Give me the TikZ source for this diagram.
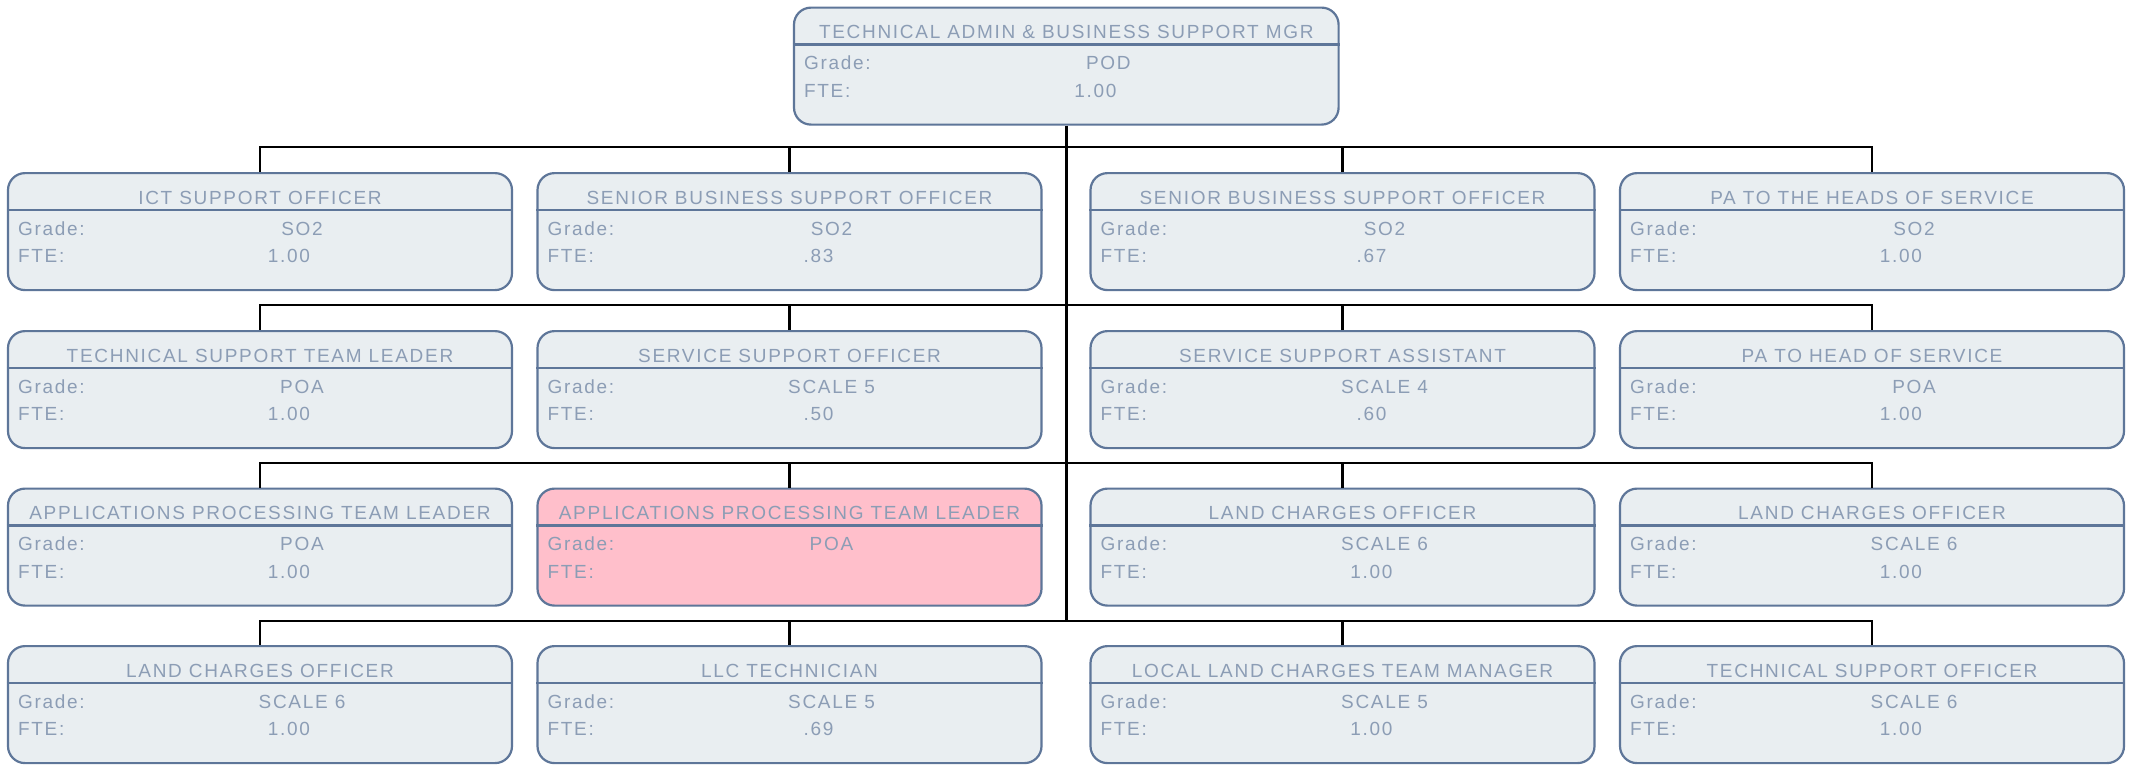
\documentclass[tikz,border=0pt]{standalone}
\usepackage{fontspec}
\setmainfont{Liberation Sans}[LetterSpace=9]
\definecolor{boxfill}{HTML}{E9EEF1}
\definecolor{boxline}{HTML}{5E7699}
\definecolor{txt}{HTML}{8C9DB5}
\definecolor{pinkfill}{HTML}{FFBFCB}
\tikzset{
  orgbox/.style={draw=boxline, line width=2.2pt, rounded corners=17pt, minimum height=117pt, inner sep=0pt, anchor=north},
  sepline/.style={draw=boxline, line width=2.2pt},
  txtnode/.style={text=txt, inner sep=0pt, font=\fontsize{19}{22}\selectfont},
  conn/.style={draw=black, line width=2.4pt},
}
% #1 name, #2 cx, #3 top, #4 width, #5 fill, #6 title, #7 grade, #8 fte
\newcommand\orgunit[8]{%
  \node[orgbox, fill=#5, minimum width=#4pt] (#1) at (#2,#3) {};
  \draw[sepline] ([yshift=-38pt]#1.north west) -- ([yshift=-38pt]#1.north east);
  \node[txtnode, anchor=base] (#1t) at ([yshift=-32.3pt]#1.north) {#6};
  \node[txtnode, anchor=base west] (#1gl) at ([xshift=11pt,yshift=-63.3pt]#1.north west) {Grade:};
  \node[txtnode, anchor=base] (#1gv) at ([xshift=42pt,yshift=-63.3pt]#1.north) {#7};
  \node[txtnode, anchor=base west] (#1fl) at ([xshift=11pt,yshift=-90.7pt]#1.north west) {FTE:};
  \node[txtnode, anchor=base] (#1fv) at ([xshift=29pt,yshift=-90.7pt]#1.north) {#8};
}
\begin{document}
\begin{tikzpicture}[x=1pt,y=-1pt]
\useasboundingbox (0,0) rectangle (2134,764);
\fill[white] (0,0) rectangle (2134,764);
% bars
\coordinate (b1l) at (260,147); \coordinate (b1r) at (1872,147);
\coordinate (b2l) at (260,305); \coordinate (b2r) at (1872,305);
\coordinate (b3l) at (260,463); \coordinate (b3r) at (1872,463);
\coordinate (b4l) at (260,621); \coordinate (b4r) at (1872,621);
\coordinate (spineend) at (1066.3,621);
\orgunit{top}{1066.3}{6.5}{544.6}{boxfill}{TECHNICAL ADMIN \& BUSINESS SUPPORT MGR}{POD}{1.00}
% row 1
\orgunit{a1}{260}{172}{504}{boxfill}{ICT SUPPORT OFFICER}{SO2}{1.00}
\orgunit{a2}{789.5}{172}{504}{boxfill}{SENIOR BUSINESS SUPPORT OFFICER}{SO2}{.83}
\orgunit{a3}{1342.5}{172}{504}{boxfill}{SENIOR BUSINESS SUPPORT OFFICER}{SO2}{.67}
\orgunit{a4}{1872}{172}{504}{boxfill}{PA TO THE HEADS OF SERVICE}{SO2}{1.00}
% row 2
\orgunit{b1}{260}{330}{504}{boxfill}{TECHNICAL SUPPORT TEAM LEADER}{POA}{1.00}
\orgunit{b2}{789.5}{330}{504}{boxfill}{SERVICE SUPPORT OFFICER}{SCALE 5}{.50}
\orgunit{b3}{1342.5}{330}{504}{boxfill}{SERVICE SUPPORT ASSISTANT}{SCALE 4}{.60}
\orgunit{b4}{1872}{330}{504}{boxfill}{PA TO HEAD OF SERVICE}{POA}{1.00}
% row 3
\orgunit{c1}{260}{487.5}{504}{boxfill}{APPLICATIONS PROCESSING TEAM LEADER}{POA}{1.00}
\orgunit{c2}{789.5}{487.5}{504}{pinkfill}{APPLICATIONS PROCESSING TEAM LEADER}{POA}{}
\orgunit{c3}{1342.5}{487.5}{504}{boxfill}{LAND CHARGES OFFICER}{SCALE 6}{1.00}
\orgunit{c4}{1872}{487.5}{504}{boxfill}{LAND CHARGES OFFICER}{SCALE 6}{1.00}
% row 4
\orgunit{d1}{260}{645}{504}{boxfill}{LAND CHARGES OFFICER}{SCALE 6}{1.00}
\orgunit{d2}{789.5}{645}{504}{boxfill}{LLC TECHNICIAN}{SCALE 5}{.69}
\orgunit{d3}{1342.5}{645}{504}{boxfill}{LOCAL LAND CHARGES TEAM MANAGER}{SCALE 5}{1.00}
\orgunit{d4}{1872}{645}{504}{boxfill}{TECHNICAL SUPPORT OFFICER}{SCALE 6}{1.00}
% connectors
\draw[conn] (top.south) -- (spineend);
\foreach \r/\yy in {a/147,b/305,c/463,d/621}{
  \draw[conn] (\r1.north) -- (\r1.north |- 0,\yy) -- (\r4.north |- 0,\yy) -- (\r4.north);
  \draw[conn] (\r2.north) -- (\r2.north |- 0,\yy);
  \draw[conn] (\r3.north) -- (\r3.north |- 0,\yy);
}
\end{tikzpicture}
\end{document}
